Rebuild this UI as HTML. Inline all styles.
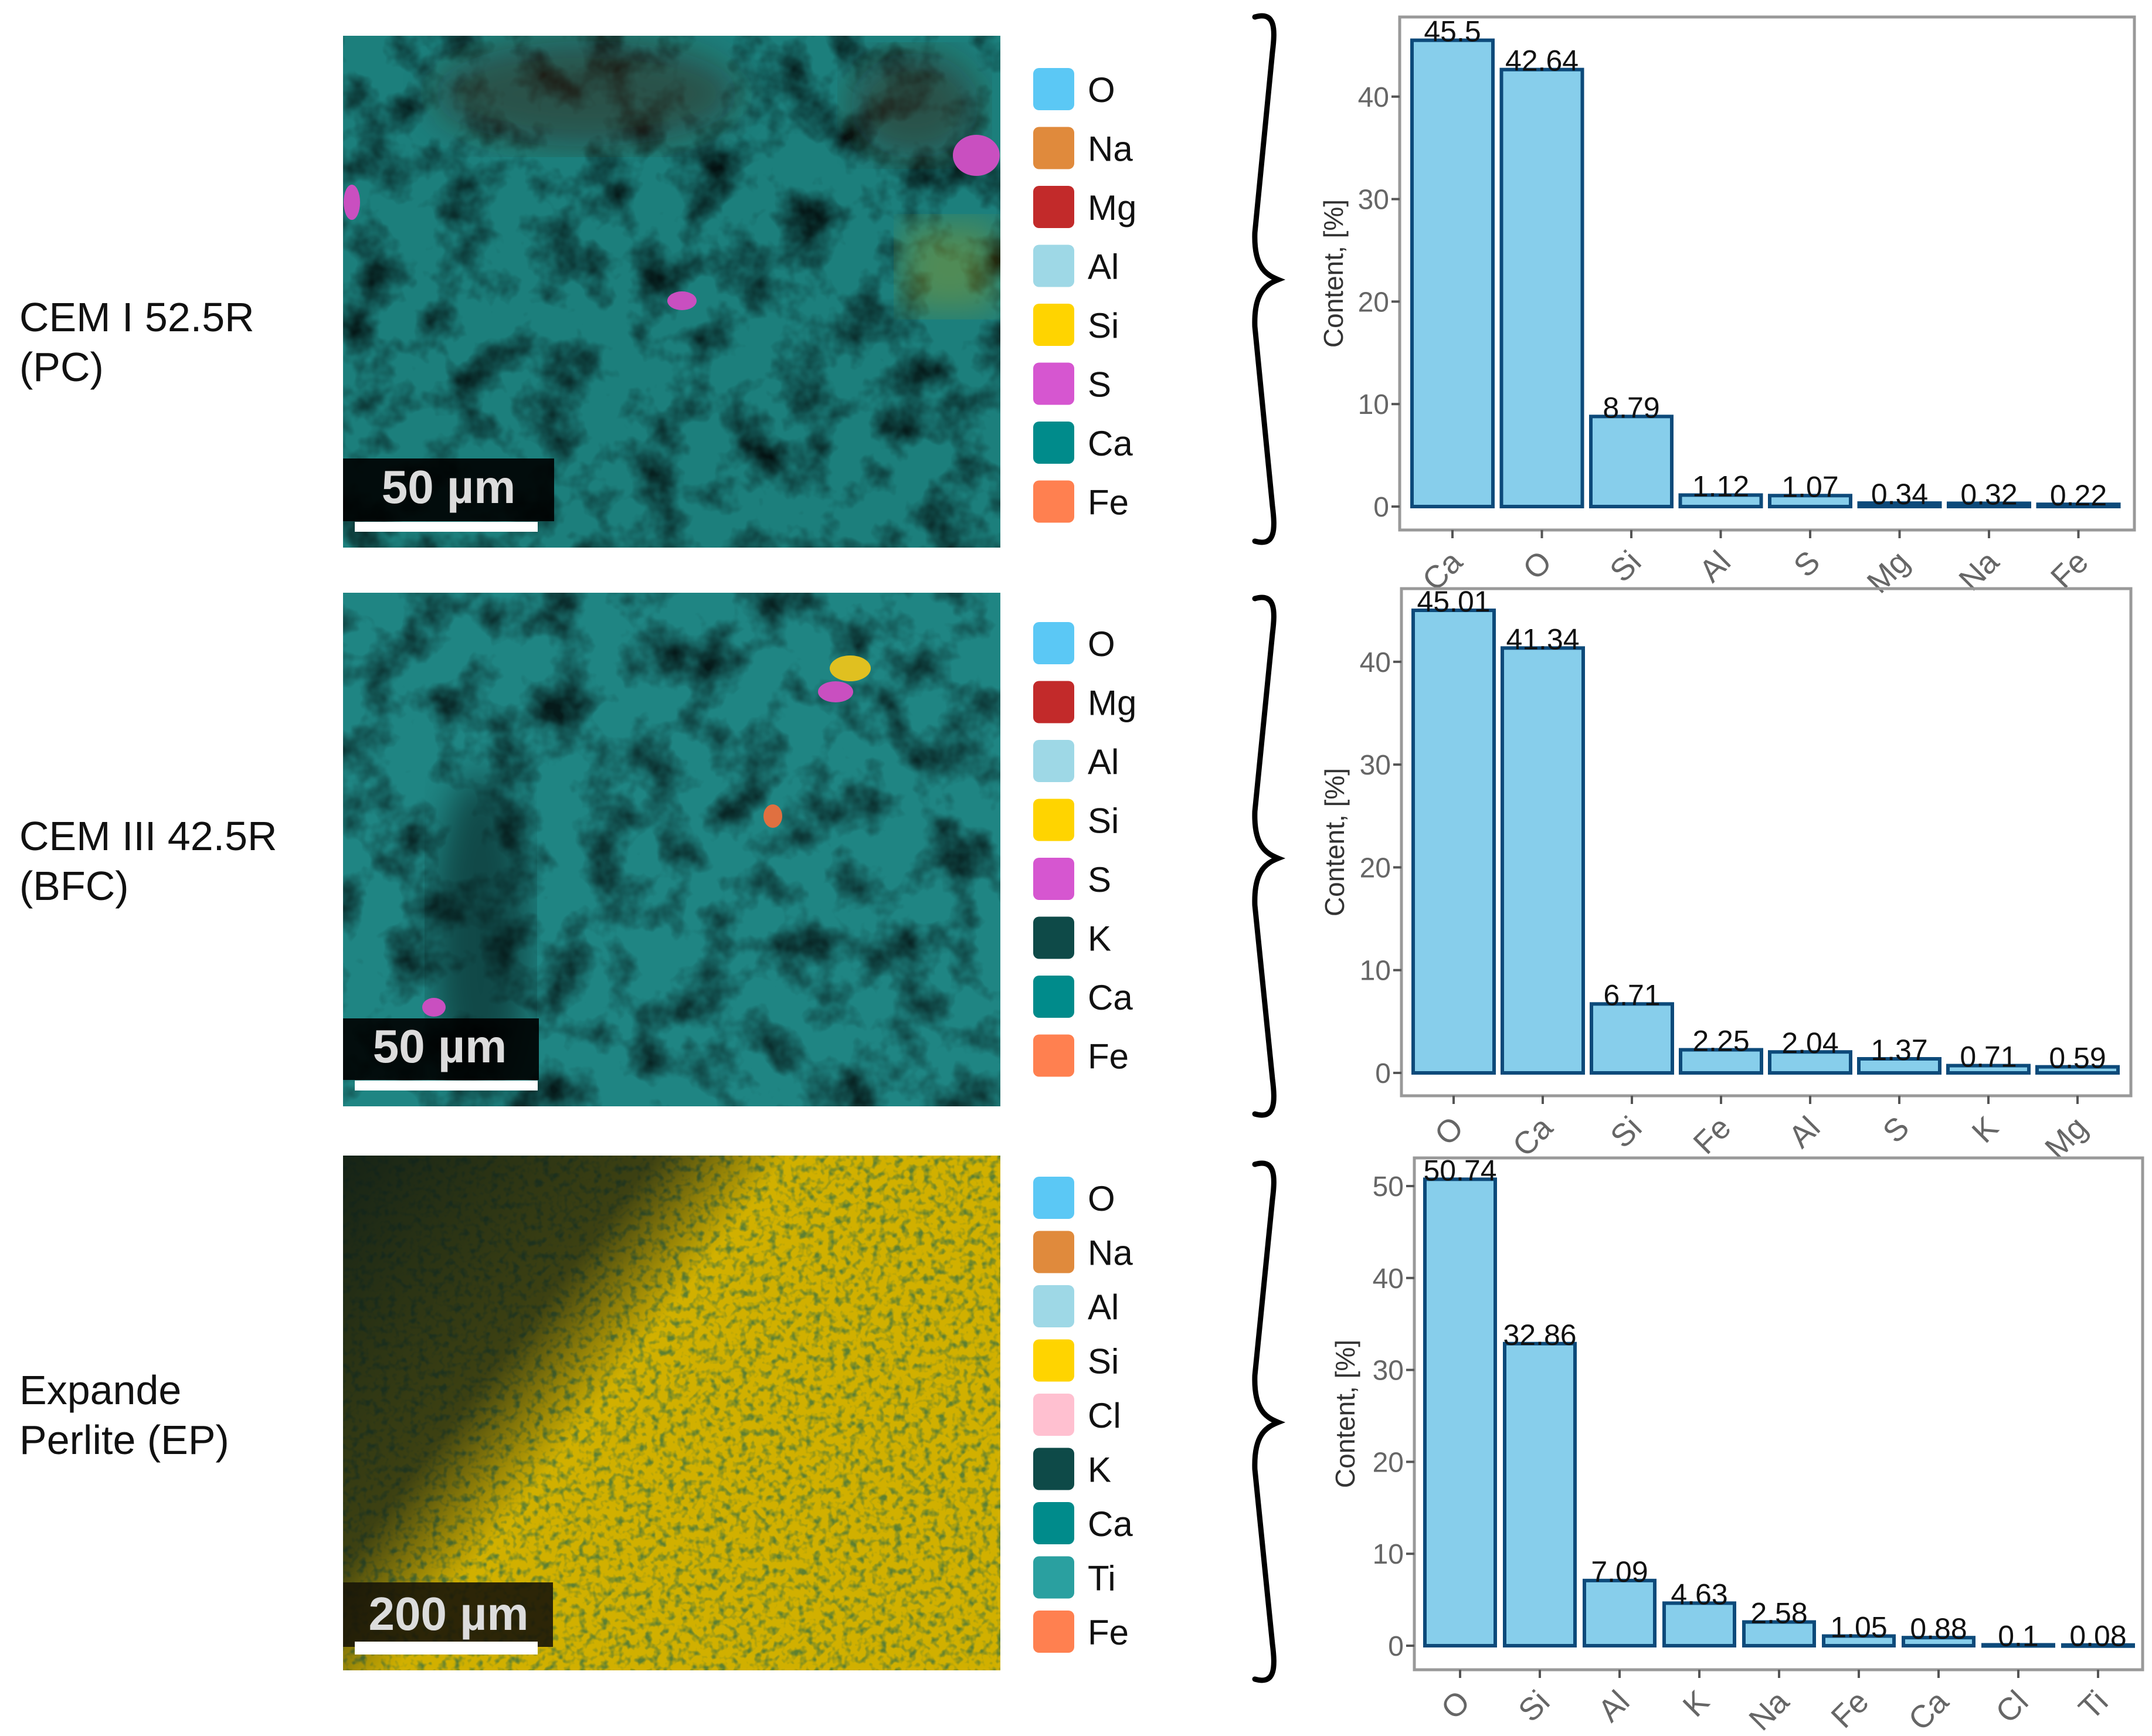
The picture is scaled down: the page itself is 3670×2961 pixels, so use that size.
<!DOCTYPE html>
<html><head><meta charset="utf-8"><style>
html,body{margin:0;padding:0;background:#fff;}
svg{display:block;font-family:"Liberation Sans",Arial,sans-serif;}
</style></head><body>
<svg id="fig" width="3670" height="2961" viewBox="0 0 3670 2961" xmlns="http://www.w3.org/2000/svg">
<defs>
<filter id="noiseT" x="0" y="0" width="100%" height="100%">
<feTurbulence type="fractalNoise" baseFrequency="0.012" numOctaves="4" seed="3"/>
<feColorMatrix type="matrix" values="0 0 0 0 0  0 0 0 0 0  0 0 0 0 0  0 0 0 -2.2 1.25"/>
</filter>
<filter id="noiseY" x="0" y="0" width="100%" height="100%">
<feTurbulence type="fractalNoise" baseFrequency="0.08" numOctaves="2" seed="7"/>
<feColorMatrix type="matrix" values="0 0 0 0 0  0 0 0 0 0.1  0 0 0 0 0.1  0 0 0 -3 1.6"/>
</filter>
<filter id="blur"><feGaussianBlur stdDeviation="30"/></filter>
<clipPath id="c1"><rect x="585" y="61" width="1121" height="873"/></clipPath>
<clipPath id="c2"><rect x="585" y="1011" width="1121" height="876"/></clipPath>
<linearGradient id="ydark" x1="0" y1="0" x2="1" y2="0.6">
<stop offset="0" stop-color="#0c1c18" stop-opacity="0.95"/>
<stop offset="0.35" stop-color="#0c1c18" stop-opacity="0.75"/>
<stop offset="0.5" stop-color="#0c1c18" stop-opacity="0"/>
</linearGradient>
</defs>

<text x="33" y="565" font-size="70" fill="#111">CEM I 52.5R</text>
<text x="33" y="650" font-size="70" fill="#111">(PC)</text>
<text x="33" y="1450" font-size="70" fill="#111">CEM III 42.5R</text>
<text x="33" y="1535" font-size="70" fill="#111">(BFC)</text>
<text x="33" y="2395" font-size="70" fill="#111">Expande</text>
<text x="33" y="2480" font-size="70" fill="#111">Perlite (EP)</text>

<g clip-path="url(#c1)">
<rect x="585" y="61" width="1121" height="873" fill="#1c7f7c"/>
<rect x="585" y="61" width="1121" height="873" fill="#000" filter="url(#noiseT)" opacity="0.85"/>
<ellipse cx="1000" cy="160" rx="260" ry="90" fill="#3a1c08" opacity="0.45" filter="url(#blur)"/>
<ellipse cx="1560" cy="180" rx="110" ry="90" fill="#3a1c08" opacity="0.45" filter="url(#blur)"/>
<ellipse cx="1665" cy="265" rx="40" ry="35" fill="#c94fc0"/>
<ellipse cx="1163" cy="513" rx="25" ry="16" fill="#c94fc0"/>
<ellipse cx="600" cy="345" rx="14" ry="30" fill="#c94fc0"/>
<rect x="1540" y="380" width="160" height="150" fill="#c9a800" opacity="0.3" filter="url(#blur)"/>
<rect x="585" y="782" width="360" height="107" fill="#000" opacity="0.9"/>
<text x="765" y="858" font-size="80" font-weight="bold" fill="#dcdcdc" text-anchor="middle">50 µm</text>
<rect x="605" y="890" width="312" height="17" fill="#fff"/>
</g>
<g clip-path="url(#c2)">
<rect x="585" y="1011" width="1121" height="876" fill="#1f8583"/>
<rect x="585" y="1011" width="1121" height="876" fill="#000" filter="url(#noiseT)" opacity="0.8"/>
<ellipse cx="820" cy="1600" rx="80" ry="280" fill="#000" opacity="0.45" filter="url(#blur)"/>
<ellipse cx="1450" cy="1140" rx="35" ry="22" fill="#e0c020"/>
<ellipse cx="1425" cy="1180" rx="30" ry="18" fill="#c94fc0"/>
<ellipse cx="1318" cy="1392" rx="16" ry="20" fill="#e07040"/>
<ellipse cx="740" cy="1718" rx="20" ry="16" fill="#c94fc0"/>
<rect x="585" y="1737" width="334" height="105" fill="#000" opacity="0.9"/>
<text x="750" y="1812" font-size="80" font-weight="bold" fill="#dcdcdc" text-anchor="middle">50 µm</text>
<rect x="605" y="1843" width="312" height="17" fill="#fff"/>
</g>
<g>
<rect x="585" y="1971" width="1121" height="878" fill="#d1b000"/>
<rect x="585" y="1971" width="1121" height="878" fill="#000" filter="url(#noiseY)" opacity="0.55"/>
<rect x="585" y="1971" width="1121" height="878" fill="url(#ydark)"/>
<rect x="585" y="2699" width="358" height="110" fill="#1a1608" opacity="0.9"/>
<text x="765" y="2780" font-size="80" font-weight="bold" fill="#dcdcdc" text-anchor="middle">200 µm</text>
<rect x="605" y="2800" width="312" height="22" fill="#fff"/>
</g>

<g id="legends"></g>
<g id="charts"></g>
</svg>
<script>
const cats1 = ["Ca","O","Si","Al","S","Mg","Na","Fe"];
const vals1 = [45.5,42.64,8.79,1.12,1.07,0.34,0.32,0.22];
const labels1 = ["45.5","42.64","8.79","1.12","1.07","0.34","0.32","0.22"];
const ticks1 = [0,10,20,30,40];

const cats2 = ["O","Ca","Si","Fe","Al","S","K","Mg"];
const vals2 = [45.01,41.34,6.71,2.25,2.04,1.37,0.71,0.59];
const labels2 = ["45.01","41.34","6.71","2.25","2.04","1.37","0.71","0.59"];
const ticks2 = [0,10,20,30,40];

const cats3 = ["O","Si","Al","K","Na","Fe","Ca","Cl","Ti"];
const vals3 = [50.74,32.86,7.09,4.63,2.58,1.05,0.88,0.1,0.08];
const labels3 = ["50.74","32.86","7.09","4.63","2.58","1.05","0.88","0.1","0.08"];
const ticks3 = [0,10,20,30,40,50];

const legNames1 = ["O","Na","Mg","Al","Si","S","Ca","Fe"];
const legColors1 = ["#5bc8f5","#e08a3c","#c22a2a","#9ed8e6","#ffd400","#d656d0","#008b8b","#ff8050"];
const legNames2 = ["O","Mg","Al","Si","S","K","Ca","Fe"];
const legColors2 = ["#5bc8f5","#c22a2a","#9ed8e6","#ffd400","#d656d0","#0e4a48","#008b8b","#ff8050"];
const legNames3 = ["O","Na","Al","Si","Cl","K","Ca","Ti","Fe"];
const legColors3 = ["#5bc8f5","#e08a3c","#9ed8e6","#ffd400","#ffc0d0","#0e4a48","#008b8b","#2aa0a0","#ff8050"];

const NS = "http://www.w3.org/2000/svg";
function mk(tag, attrs, parent){const e=document.createElementNS(NS,tag);for(const k in attrs)e.setAttribute(k,attrs[k]);parent.appendChild(e);return e;}

function legend(names, colors, y0, step, id){
  const g = mk('g',{},document.getElementById('legends'));
  
  
  names.forEach((n,i)=>{
    const cy = y0 + i*step;
    const r = mk('rect',{x:1762,y:cy-36,width:70,height:72,rx:10,fill:colors[i]},g);
    
    
    const t = mk('text',{x:1855,y:cy+22,'font-size':60,fill:'#111'},g);
    t.textContent = n;
    
    
  });
}
legend(legNames1, legColors1, 152, 100.5, 'pc');
legend(legNames2, legColors2, 1097, 100.5, 'bfc');
legend(legNames3, legColors3, 2043, 92.5, 'ep');

function brace(top, tip, bottom, id){
  const x=2150, xt=2180;
  const d = `M ${x-10} ${top} C ${x+25} ${top-10}, ${x+25} ${top+20}, ${x+20} ${top+60}
    L ${x-10} ${tip-80} C ${x-12} ${tip-20}, ${x+10} ${tip-8}, ${xt} ${tip}
    C ${x+10} ${tip+8}, ${x-12} ${tip+20}, ${x-10} ${tip+80}
    L ${x+20} ${bottom-60} C ${x+25} ${bottom-20}, ${x+25} ${bottom+10}, ${x-10} ${bottom}`;
  const p = mk('path',{d:d,fill:'none',stroke:'#000','stroke-width':9,'stroke-linecap':'round'},document.getElementById('charts'));
  
  
}
brace(29,477,923,'pc');
brace(1021,1464,1900,'bfc');
brace(1986,2426,2864,'ep');

function chart(cfg){
  const {cats, vals, labels, ticks, left, right, top, bottom, y0px, per10, c0, step, bw, id, ylabX} = cfg;
  const g = mk('g',{},document.getElementById('charts'));
  
  
  const ys = v => y0px - v*per10/10;
  const xs = i => c0 + i*step;
  const box = mk('rect',{x:left,y:top,width:right-left,height:bottom-top,fill:'none',stroke:'#999','stroke-width':5},g);
  
  
  ticks.forEach(t=>{
    const y = ys(t);
    const l = mk('line',{x1:left-14,x2:left,y1:y,y2:y,stroke:'#555','stroke-width':4},g);
    
    
    const tx = mk('text',{x:left-18,y:y+17,'font-size':48,fill:'#666','text-anchor':'end'},g);
    tx.textContent = t;
    
    
  });
  const yl = mk('text',{x:ylabX,y:(top+bottom)/2,'font-size':46,fill:'#333','text-anchor':'middle',transform:`rotate(-90 ${ylabX} ${(top+bottom)/2})`},g);
  yl.textContent = 'Content, [%]';
  
  
  cats.forEach((c,i)=>{
    const cx = xs(i), yt = ys(vals[i]);
    const b = mk('rect',{x:cx-bw/2,y:yt,width:bw,height:Math.max(y0px-yt,2),fill:'#87ceeb',stroke:'#0d4a7a','stroke-width':6},g);
    
    
    const vt = mk('text',{x:cx,y:yt+2,'font-size':50,fill:'#111','text-anchor':'middle'},g);
    vt.textContent = labels[i];
    
    
    const tk = mk('line',{x1:cx,x2:cx,y1:bottom,y2:bottom+14,stroke:'#555','stroke-width':4},g);
    
    
    const ax = cx+20, ay = bottom+58;
    const xt = mk('text',{x:ax,y:ay,'font-size':54,fill:'#666','text-anchor':'end',transform:`rotate(-45 ${ax} ${ay})`},g);
    xt.textContent = c;
    
    
  });
}
chart({cats:cats1,vals:vals1,labels:labels1,ticks:ticks1,left:2387,right:3640,top:29,bottom:904,y0px:864,per10:174.8,c0:2477,step:152.5,bw:138,id:'pc',ylabX:2290});
chart({cats:cats2,vals:vals2,labels:labels2,ticks:ticks2,left:2390,right:3634,top:1004,bottom:1869,y0px:1830,per10:175.3,c0:2479,step:152,bw:138,id:'bfc',ylabX:2292});
chart({cats:cats3,vals:vals3,labels:labels3,ticks:ticks3,left:2412,right:3654,top:1975,bottom:2848,y0px:2807,per10:156.8,c0:2490,step:136,bw:120,id:'ep',ylabX:2310});
</script>
</body></html>
